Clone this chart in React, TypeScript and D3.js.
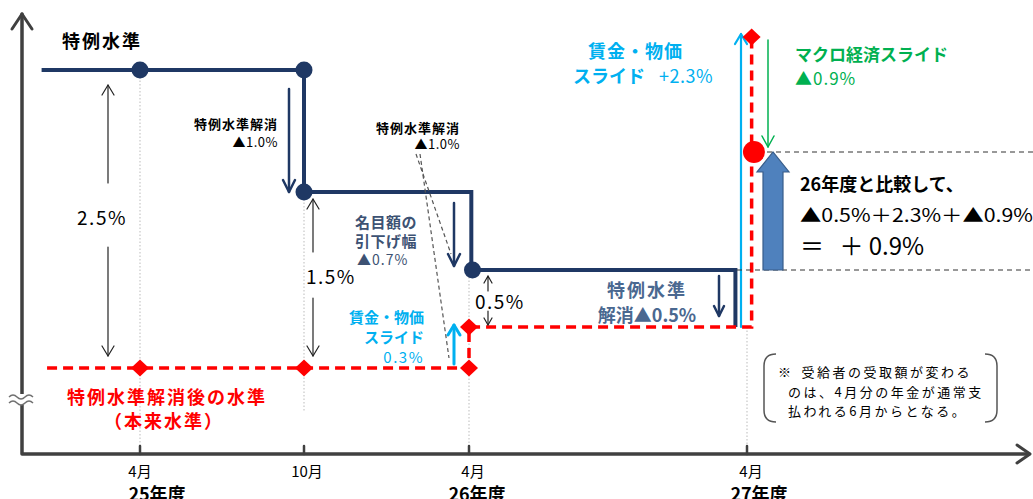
import React from "react";
import * as d3 from "d3";

// ---- data (months from 4月 25年度; levels in % above 本来水準 of 25年度) ----
const tickMonths = [0, 6, 12, 24];
const monthLabels = ["4月", "10月", "4月", "4月"];
const fiscalLabels = ["25年度", "", "26年度", "27年度"];

// 特例水準 (navy step line)
const tokureiLine = [
  { m: -3.6, v: 2.5 }, { m: 6, v: 2.5 }, { m: 6, v: 1.5 },
  { m: 12.1, v: 1.5 }, { m: 12.1, v: 0.8 }, { m: 23.5, v: 0.8 }, { m: 23.5, v: 0.3 },
];
const tokureiDots = [
  { m: 0, v: 2.5 }, { m: 6, v: 2.5 }, { m: 6, v: 1.5 }, { m: 12.15, v: 0.8 },
];
// 本来水準 (red dashed)
const honraiLine = [
  { m: -3.4, v: 0 }, { m: 12, v: 0 }, { m: 12, v: 0.3 },
  { m: 24.2, v: 0.3 }, { m: 24.2, v: 2.6 },
];
const honraiDiamonds = [
  { m: 0, v: 0 }, { m: 6, v: 0 }, { m: 12, v: 0 }, { m: 12, v: 0.3 }, { m: 24.2, v: 2.6 },
];
const result27 = { m: 24.3, v: 1.7 };
const level26 = 0.8;

const NAVY = "#1F3864";
const RED = "#FF0000";
const CYAN = "#00B0F0";
const GREEN = "#00B050";
const SLATE = "#3D5273";
const STEEL = "#4A6890";
const FONT = "'Noto Sans CJK JP', 'Noto Sans', sans-serif";

const x = d3.scaleLinear().domain([0, 6, 12, 24]).range([140, 304, 469, 747]);
const y = d3.scaleLinear()
  .domain([0, 0.3, 0.8, 1.5, 1.7, 2.5, 2.6])
  .range([368, 327, 270, 192, 152, 70, 37]);

const lineGen = d3.line<{ m: number; v: number }>().x(d => x(d.m)).y(d => y(d.v));

function Arrow({ x1, y1, x2, y2, color, width = 1.2, hw = 6, hl = 10, dash }: any) {
  const ang = Math.atan2(y2 - y1, x2 - x1);
  const bx = x2 - hl * Math.cos(ang), by = y2 - hl * Math.sin(ang);
  const px = -Math.sin(ang) * hw, py = Math.cos(ang) * hw;
  return (
    <g stroke={color} strokeWidth={width} fill="none" strokeLinecap="round" strokeLinejoin="round">
      <line x1={x1} y1={y1} x2={x2} y2={y2} strokeDasharray={dash} />
      <polyline points={`${bx + px},${by + py} ${x2},${y2} ${bx - px},${by - py}`} />
    </g>
  );
}

function Diamond({ cx, cy }: any) {
  return <path d={`M${cx},${cy - 8.5} L${cx + 9},${cy} L${cx},${cy + 8.5} L${cx - 9},${cy} Z`} fill={RED} />;
}

export default function App() {
  const axisY = 454;
  const axisX = 22;
  const bx = 773; // block arrow center
  const bTop = y(result27.v);
  const bBot = y(level26);
  return (
    <svg width={1033} height={499} style={{ position: "absolute", left: 0, top: 0, background: "#fff" }} fontFamily={FONT}>
      {/* dotted verticals */}
      <g stroke="#bbb" strokeWidth={1} strokeDasharray="1.5,2">
        <line x1={x(0)} x2={x(0)} y1={y(2.5)} y2={447} />
        <line x1={x(6)} x2={x(6)} y1={y(1.5)} y2={412} />
        <line x1={x(12)} x2={x(12)} y1={y(0.8)} y2={447} />
        <line x1={x(24)} x2={x(24)} y1={y(0.3)} y2={447} />
      </g>

      {/* axes */}
      <g stroke="#404040" strokeWidth={3.5} fill="none" strokeLinecap="round" strokeLinejoin="round">
        <polyline points={`${axisX},14 ${axisX},${axisY} 1029,${axisY}`} />
        <polyline points={`${axisX - 10},29 ${axisX},14 ${axisX + 10},29`} strokeWidth={3} />
        <polyline points={`1017,${axisY - 9} 1030,${axisY} 1017,${axisY + 9}`} strokeWidth={3} />
        {tickMonths.map((m, i) => (
          <line key={i} x1={x(m)} x2={x(m)} y1={446} y2={axisY} strokeWidth={2.5} />
        ))}
      </g>
      {/* axis break */}
      <g stroke="#707070" strokeWidth={1.5} fill="none">
        <rect x={12} y={394} width={20} height={11} fill="#fff" stroke="none" />
        <path d="M9,397 q4,-4 8,0 t8,0 t8,0" />
        <path d="M9,403 q4,-4 8,0 t8,0 t8,0" />
      </g>
      {/* axis labels */}
      <g fontSize={15} fill="#000" textAnchor="middle">
        {tickMonths.map((m, i) => (
          <text key={i} x={x(m) + (i === 3 ? 4 : i === 1 ? 3 : i === 2 ? 4 : 0)} y={477}>{monthLabels[i]}</text>
        ))}
        {tickMonths.map((m, i) => fiscalLabels[i] ? (
          <text key={"f" + i} x={x(m) + (i === 0 ? 17 : i === 2 ? 8 : 12)} y={501} fontWeight="bold" fontSize={18}>{fiscalLabels[i]}</text>
        ) : null)}
      </g>

      {/* 特例水準 */}
      <path d={lineGen(tokureiLine) || ""} fill="none" stroke={NAVY} strokeWidth={4} strokeLinejoin="miter" />
      {tokureiDots.map((d, i) => <circle key={i} cx={x(d.m)} cy={y(d.v)} r={8.5} fill={NAVY} />)}

      {/* cyan long arrow 27年度 */}
      <Arrow x1={741} y1={y(0.3)} x2={741} y2={34} color={CYAN} width={2.2} hw={6} hl={10} />

      {/* 本来水準 */}
      <path d={lineGen(honraiLine) || ""} fill="none" stroke={RED} strokeWidth={3.5} strokeDasharray="10,6" />
      {honraiDiamonds.map((d, i) => <Diamond key={i} cx={x(d.m)} cy={y(d.v)} />)}
      <circle cx={x(result27.m)} cy={y(result27.v)} r={11} fill={RED} />

      {/* reference dashed lines */}
      <g stroke="#333" strokeWidth={1} strokeDasharray="5,4">
        <line x1={767} x2={1033} y1={y(result27.v)} y2={y(result27.v)} />
        <line x1={737} x2={1033} y1={y(level26)} y2={y(level26)} />
      </g>

      {/* block arrow */}
      <path
        d={`M${bx - 10},${bBot} L${bx - 10},${bTop + 20} L${bx - 16},${bTop + 20} L${bx},${bTop} L${bx + 16},${bTop + 20} L${bx + 10},${bTop + 20} L${bx + 10},${bBot} Z`}
        fill="#4F81BD" stroke="#385D8A" strokeWidth={1.2}
      />

      {/* green arrow */}
      <Arrow x1={768} y1={40} x2={768} y2={147} color={GREEN} width={1.5} hw={6} hl={11} />

      {/* black thin arrows */}
      <Arrow x1={108} y1={183} x2={108} y2={85} color="#222" />
      <Arrow x1={108} y1={247} x2={108} y2={356} color="#222" />
      <Arrow x1={313} y1={252} x2={313} y2={199} color="#222" />
      <Arrow x1={313} y1={298} x2={313} y2={356} color="#222" />
      <Arrow x1={488} y1={291} x2={488} y2={276} color="#222" hw={4} hl={7} />
      <Arrow x1={488} y1={311} x2={488} y2={325} color="#222" hw={4} hl={7} />

      {/* navy arrows */}
      <Arrow x1={289} y1={89} x2={289} y2={192} color={NAVY} width={2.5} hw={6} hl={12} />
      <Arrow x1={454} y1={203} x2={454} y2={266} color={NAVY} width={2.5} hw={6} hl={12} />
      <Arrow x1={719} y1={276} x2={719} y2={316} color={NAVY} width={2.5} hw={5} hl={10} />

      {/* cyan small arrow */}
      <Arrow x1={454} y1={364} x2={454} y2={325} color={CYAN} width={3} hw={6} hl={10} />

      {/* gray dashed leaders */}
      <g stroke="#555" strokeWidth={1.2} strokeDasharray="4,3">
        <line x1={416} y1={154} x2={451} y2={254} />
        <line x1={420} y1={154} x2={449} y2={358} />
      </g>

      {/* texts */}
      <text x={62} y={48} fontSize={18} fontWeight="bold" letterSpacing={2}>特例水準</text>

      <g fontSize={13} textAnchor="end" fill="#000">
        <text x={278} y={129} fontWeight="bold" letterSpacing={1}>特例水準解消</text>
        <text x={278} y={147} letterSpacing={0.5}>▲1.0%</text>
        <text x={460} y={133} fontWeight="bold" letterSpacing={1}>特例水準解消</text>
        <text x={460} y={149} letterSpacing={0.5}>▲1.0%</text>
      </g>

      <g fontSize={19} fill="#000" letterSpacing={1.5}>
        <text x={102} y={225} textAnchor="middle">2.5%</text>
        <text x={306} y={284}>1.5%</text>
        <text x={475} y={309}>0.5%</text>
      </g>

      <g fontSize={15} fill={SLATE}>
        <text x={355} y={228} fontWeight="bold" letterSpacing={0.5}>名目額の</text>
        <text x={355} y={247} fontWeight="bold" letterSpacing={0.5}>引下げ幅</text>
        <text x={357} y={265} fontSize={14} letterSpacing={1}>▲0.7%</text>
      </g>

      <g fontSize={15} fill={CYAN} textAnchor="end">
        <text x={424} y={323} fontWeight="bold">賃金・物価</text>
        <text x={424} y={343} fontWeight="bold">スライド</text>
        <text x={424} y={363} letterSpacing={1.5}>0.3%</text>
      </g>

      <g fontSize={18} fill={STEEL} textAnchor="middle" fontWeight="bold">
        <text x={647} y={297} letterSpacing={2}>特例水準</text>
        <text x={647} y={322}>解消▲0.5%</text>
      </g>

      <g fontSize={18} fill={RED} textAnchor="middle" fontWeight="bold">
        <text x={167} y={404} letterSpacing={2}>特例水準解消後の水準</text>
        <text x={164} y={428} letterSpacing={2}>（本来水準）</text>
      </g>

      <g fontSize={18} fill={CYAN}>
        <text x={588} y={58} fontWeight="bold" letterSpacing={1}>賃金・物価</text>
        <text x={573} y={83}><tspan fontWeight="bold">スライド</tspan><tspan dx={14} letterSpacing={0.5}>+2.3%</tspan></text>
      </g>

      <g fontSize={17} fill={GREEN}>
        <text x={795} y={61} fontWeight="bold">マクロ経済スライド</text>
        <text x={795} y={85} letterSpacing={1}>▲0.9%</text>
      </g>

      <g fill="#000">
        <text x={800} y={191} fontSize={18} fontWeight="bold">26年度と比較して、</text>
        <text x={800} y={222} fontSize={18} textLength={233} lengthAdjust="spacingAndGlyphs">▲0.5%＋2.3%＋▲0.9%</text>
        <text x={800} y={255} fontSize={24}>＝ <tspan dx={10}>＋ 0.9%</tspan></text>
      </g>

      {/* note */}
      <g stroke="#555" strokeWidth={1.5} fill="none">
        <path d="M776,354 Q764,354 764,366 L764,410 Q764,422 776,422" />
        <path d="M985,354 Q997,354 997,366 L997,410 Q997,422 985,422" />
      </g>
      <g fontSize={13} fill="#000" letterSpacing={2.5}>
        <text x={778} y={377}>※<tspan dx={8}>受給者の受取額が変わる</tspan></text>
        <text x={788} y={397}>のは、4月分の年金が通常支</text>
        <text x={788} y={416}>払われる6月からとなる。</text>
      </g>
    </svg>
  );
}
